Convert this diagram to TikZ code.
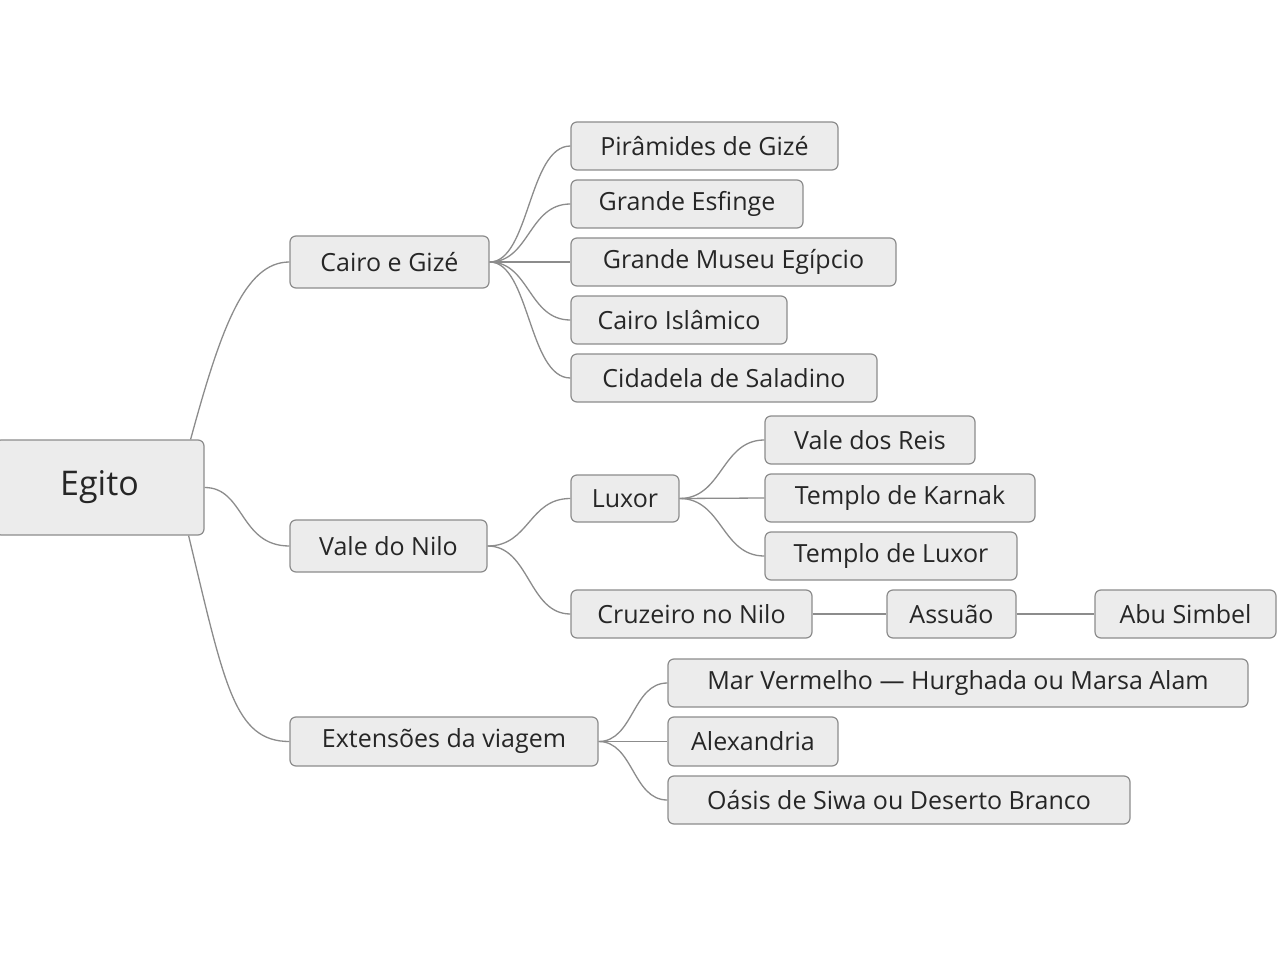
\documentclass[tikz,border=0pt]{standalone}
\usepackage{fontspec}
\setmainfont{Open Sans}
\usetikzlibrary{calc}
\definecolor{nfill}{HTML}{ECECEC}
\definecolor{nline}{HTML}{8C8C8C}
\begin{document}
\begin{tikzpicture}[x=1pt,y=-1pt,
  box/.style={draw=nline,fill=nfill,rounded corners=6pt,line width=1.2pt,inner sep=0pt,font=\fontsize{25}{30}\selectfont,text=black!85},
  lk/.style={draw=nline,line width=1.3pt}]
\useasboundingbox[fill=white] (0,0) rectangle (1280,960);
\newcommand\bx[6]{\node[box,minimum width=#4-#2,minimum height=#5-#3] (#1) at ({(#2+#4)/2},{(#3+#5)/2}) {#6};}
\bx{eg}{-5}{440}{204}{535}{\fontsize{34}{40}\selectfont Egito}
\bx{cg}{290}{236}{489}{288}{Cairo e Gizé}
\bx{p1}{571}{122}{838}{170}{Pirâmides de Gizé}
\bx{p2}{571}{180}{803}{228}{Grande Esfinge}
\bx{p3}{571}{238}{896}{286}{Grande Museu Egípcio}
\bx{p4}{571}{296}{787}{344}{Cairo Islâmico}
\bx{p5}{571}{354}{877}{402}{Cidadela de Saladino}
\bx{vn}{290}{520}{487}{572}{Vale do Nilo}
\bx{lx}{571}{475}{679}{522}{Luxor}
\bx{l1}{765}{416}{975}{464}{Vale dos Reis}
\bx{l2}{765}{474}{1035}{522}{Templo de Karnak}
\bx{l3}{765}{532}{1017}{580}{Templo de Luxor}
\bx{cr}{571}{590}{812}{638}{Cruzeiro no Nilo}
\bx{as}{887}{590}{1016}{638}{Assuão}
\bx{ab}{1095}{590}{1276}{638}{Abu Simbel}
\bx{ex}{290}{717}{598}{766}{Extensões da viagem}
\bx{e1}{668}{659}{1248}{707}{Mar Vermelho — Hurghada ou Marsa Alam}
\bx{e2}{668}{717}{838}{766}{Alexandria}
\bx{e3}{668}{776}{1130}{824}{Oásis de Siwa ou Deserto Branco}
% connectors
\draw[lk] ($(eg.north east)+(-14,0)$) .. controls ($(eg.north east)+(16,-110)$) and ($(cg.west)+(-45,0)$) .. (cg.west);
\draw[lk] (eg.east) .. controls ($(eg.east)+(40,0)$) and ($(vn.west)+(-50,0)$) .. (vn.west);
\draw[lk] ($(eg.south east)+(-16,0)$) .. controls ($(eg.south east)+(20,150)$) and ($(ex.west)+(-55,0)$) .. (ex.west);
\foreach \c in {p1,p2,p3,p4,p5}
  \draw[lk] (cg.east) .. controls ($(cg.east)+(40,0)$) and ($(\c.west)+(-42,0)$) .. (\c.west);
\foreach \c in {lx,cr}
  \draw[lk] (vn.east) .. controls ($(vn.east)+(42,0)$) and ($(\c.west)+(-42,0)$) .. (\c.west);
\foreach \c in {l1,l2,l3}
  \draw[lk] (lx.east) .. controls ($(lx.east)+(43,0)$) and ($(\c.west)+(-43,0)$) .. (\c.west);
\draw[lk] (cr.east) -- (as.west);
\draw[lk] (as.east) -- (ab.west);
\foreach \c in {e1,e2,e3}
  \draw[lk] (ex.east) .. controls ($(ex.east)+(35,0)$) and ($(\c.west)+(-35,0)$) .. (\c.west);
\end{tikzpicture}
\end{document}
